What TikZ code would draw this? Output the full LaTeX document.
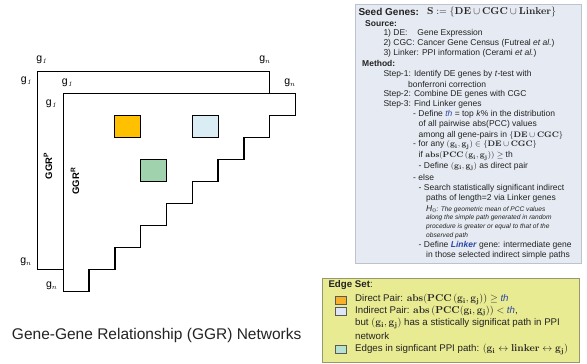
\documentclass[tikz,border=0pt]{standalone}
\usepackage[no-math]{fontspec}
\setmainfont{Liberation Sans}
\usepackage{tikz}
\usepackage{xcolor}
\usetikzlibrary{positioning,calc}
\definecolor{direct}{RGB}{255,192,0}
\definecolor{indirect}{RGB}{218,237,244}
\definecolor{ppipath}{RGB}{160,210,174}
\definecolor{directkey}{RGB}{246,176,42}
\definecolor{indirectkey}{RGB}{222,230,246}
\definecolor{ppikey}{RGB}{182,226,208}
\definecolor{seedfill}{RGB}{230,234,242}
\definecolor{seededge}{RGB}{188,194,206}
\definecolor{edgefill}{RGB}{232,235,145}
\definecolor{edgeedge}{RGB}{150,152,112}
\definecolor{thblue}{RGB}{40,70,170}
\definecolor{textgray}{RGB}{35,35,35}

\begin{document}
\begin{tikzpicture}[
  x=1pt, y=-1pt,
  frame/.style={line width=1.3pt, line join=miter},
  cell/.style={draw, line width=1.1pt},
  glabel/.style={font=\fontsize{10.5}{12}\selectfont, inner sep=0pt},
  ggr/.style={font=\fontsize{9.5}{11}\selectfont\bfseries, rotate=90, inner sep=0pt},
  panel/.style={draw=seededge, fill=seedfill, line width=.8pt, anchor=north west, inner sep=0pt},
  edgepanel/.style={draw=edgeedge, fill=edgefill, line width=.8pt, anchor=north west, inner sep=0pt},
  txt/.style={anchor=west, inner sep=0pt, text=textgray, font=\fontsize{8.5}{10}\selectfont},
  head/.style={txt, font=\fontsize{8.5}{10}\selectfont\bfseries},
  note/.style={txt, font=\fontsize{6.6}{8}\selectfont\itshape},
  keytxt/.style={txt, font=\fontsize{9.7}{11}\selectfont},
  key/.style={draw=black!65, line width=.5pt, minimum width=10.7pt, minimum height=7.6pt, inner sep=0pt}
]
\useasboundingbox (0,0) rectangle (587,364);

% GGR matrices
\begin{scope}[shift={(63.3,93.3)}, x=25.8pt, y=-22pt]
\draw[frame] (0,8) -- (-1,8) -- (-1,-1) -- (8,-1) -- (8,0);
\draw[frame] (0,0) -- (9,0) -- (9,1) -- (8,1) -- (8,2) -- (7,2) -- (7,3)
  -- (6,3) -- (6,4) -- (5,4) -- (5,5) -- (4,5) -- (4,6) -- (3,6) -- (3,7)
  -- (2,7) -- (2,8) -- (1,8) -- (1,9) -- (0,9) -- cycle;
\draw[cell, fill=direct]   (2,1) rectangle (3,2);
\draw[cell, fill=indirect] (5,1) rectangle (6,2);
\draw[cell, fill=ppipath]  (3,3) rectangle (4,4);
\end{scope}

\node[glabel] (pg1top)  at (42,60)    {g$_{\mathit 1}$};
\node[glabel] (pgntop)  at (265,60)   {g$_n$};
\node[glabel] (pg1left) at (26.7,81)  {g$_{\mathit 1}$};
\node[glabel] (pgnleft) at (26,261.7) {g$_n$};
\node[glabel] (rg1top)  at (67.7,82.7) {g$_{\mathit 1}$};
\node[glabel] (rgntop)  at (290,82.7)  {g$_n$};
\node[glabel] (rg1left) at (51.7,104)  {g$_{\mathit 1}$};
\node[glabel] (rgnleft) at (51.7,285.7) {g$_n$};
\node[ggr] (ggrp) at (48,166) {GGR\textsuperscript{P}};
\node[ggr] (ggrr) at (75,181) {GGR\textsuperscript{R}};

\node[font=\fontsize{15.5}{18}\selectfont, text=textgray] (title) at (156.7,335)
  {Gene-Gene Relationship (GGR) Networks};

% seed genes
\node[panel, minimum width=225.7pt, minimum height=259.3pt] (seedbox) at (355,4) {};
\node[head, font=\fontsize{10}{12}\selectfont\bfseries] (seed) at (358.3,11.7) {Seed Genes:};
\node[txt, font=\fontsize{10}{12}\selectfont] (seedset) at (427,11.7)
  {$\mathbf{S} := \{\mathbf{DE}\cup\mathbf{CGC}\cup\mathbf{Linker}\}$};
\node[head] (source) at (365,23.3) {Source:};
\node[txt] (de)     at (383.3,33.3) {\makebox[34pt][l]{1) DE:}Gene Expression};
\node[txt] (cgc)    at (383.3,43.3) {\makebox[34pt][l]{2) CGC:}Cancer Gene Census (Futreal \textit{et al.})};
\node[txt] (linker) at (383.3,53.3) {3) Linker: PPI information (Cerami \textit{et al.})};
\node[head] (method) at (362,63.5) {Method:};
\node[txt] (step1) at (383.3,74)   {Step-1: Identify DE genes by \textit{t}-test with};
\node[txt] (bonf)  at (408,84)     {bonferroni correction};
\node[txt] (step2) at (383.3,94.3) {Step-2: Combine DE genes with CGC};
\node[txt] (step3) at (383.3,104.3) {Step-3: Find Linker genes};
\node[txt] (thdef) at (413,114.5)
  {- Define \textcolor{thblue}{\textit{th}} = top \textit{k}\% in the distribution};
\node[txt] (pairwise) at (418.5,124.5) {of all pairwise abs(PCC) values};
\node[txt] (among) at (418.5,135)
  {among all gene-pairs in $\{\mathbf{DE}\cup\mathbf{CGC}\}$};
\node[txt] (forany) at (413,145)
  {- for any $(\mathbf{g_i},\mathbf{g_j})\in\{\mathbf{DE}\cup\mathbf{CGC}\}$};
\node[txt] (ifabs) at (418.5,156) {if $\mathbf{abs(PCC\,(g_i,g_j))}\geq$ th};
\node[txt] (directdef) at (418.5,166.5) {- Define $(\mathbf{g_i},\mathbf{g_j})$ as direct pair};
\node[txt] (else) at (413,177) {- else};
\node[txt] (search) at (418.5,188) {- Search statistically significant indirect};
\node[txt] (paths) at (426,198.5) {paths of length=2 via Linker genes};
\node[note] (hzero) at (426,209)
  {{\fontsize{8.5}{10}\selectfont\textit{H$_0$}}: The geometric mean of PCC values};
\node[note] (along) at (426,218) {along the simple path generated in random};
\node[note] (proc)  at (426,227) {procedure is greater or equal to that of the};
\node[note] (obs)   at (426,236) {observed path};
\node[txt] (linkdef) at (418.5,245.5)
  {- Define \textcolor{thblue}{\textbf{\textit{Linker}}} gene: intermediate gene};
\node[txt] (inthose) at (426,255) {in those selected indirect simple paths};

% edge set
\node[edgepanel, minimum width=257.6pt, minimum height=83.4pt] (edgebox) at (321.7,278.3) {};
\node[keytxt] (edgeset) at (328.3,285) {\textbf{Edge Set}:};
\node[key, fill=directkey]   (kdirect)   at (340.8,300) {};
\node[key, fill=indirectkey] (kindirect) at (340.8,311.3) {};
\node[key, fill=ppikey]      (kppi)      at (340.8,349.2) {};
\node[keytxt] (ldirect) at (355,299.3)
  {Direct Pair: $\mathbf{abs(PCC\,(g_i,g_j))}\geq$ \textcolor{thblue}{\textit{th}}};
\node[keytxt] (lindirect) at (355,310.7)
  {Indirect Pair: $\mathbf{abs\,(PCC(g_i,g_j))}<$ \textcolor{thblue}{\textit{th}},};
\node[keytxt] (lbut) at (355,323.3)
  {but $(\mathbf{g_i},\mathbf{g_j})$ has a stistically significat path in PPI};
\node[keytxt] (lnetwork) at (355,335.7) {network};
\node[keytxt] (lppi) at (355,349.3)
  {Edges in signficant PPI path: $(\mathbf{g_i}\leftrightarrow\mathbf{linker}\leftrightarrow\mathbf{g_j})$};
\end{tikzpicture}
\end{document}
